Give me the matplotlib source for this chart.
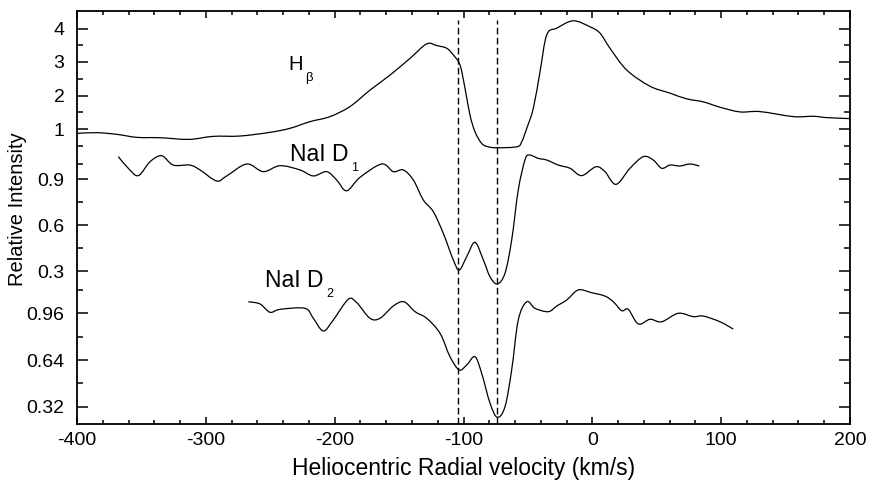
import numpy as np
import matplotlib
matplotlib.use("Agg")
import matplotlib.pyplot as plt
from matplotlib.path import Path
from matplotlib.patches import PathPatch
from matplotlib.ticker import MultipleLocator, FixedLocator

plt.rcParams['font.family'] = ['Liberation Sans', 'DejaVu Sans']
plt.rcParams['axes.unicode_minus'] = False

# H-beta profile (relative intensity vs heliocentric velocity, km/s)
hb_vel = [-400, -384.5, -369, -353.4, -335.6, -313, -294.4, -273.5, -250.2, -234.7,
          -219.1, -203.6, -188.1, -172.6, -157.0, -141.5, -128.6, -120.8, -113.0, -107.9,
          -102.7, -98.8, -95.0, -91.1, -85.9, -81.0, -74.0, -58.5, -54.8, -50.9,
          -45.8, -40.6, -35.4, -27.6, -14.8, -1.8, 6.0, 13.7, 26.7, 44.6,
          60.3, 73.3, 86.1, 99.1, 114.6, 130.1, 156.0, 171.5, 181.9, 200]
hb_int = [0.87, 0.89, 0.84, 0.75, 0.74, 0.69, 0.78, 0.79, 0.90, 1.02,
          1.22, 1.37, 1.67, 2.16, 2.61, 3.11, 3.54, 3.49, 3.41, 3.21,
          2.91, 2.21, 1.42, 0.92, 0.57, 0.47, 0.44, 0.47, 0.62, 1.02,
          1.62, 2.71, 3.81, 4.01, 4.23, 4.05, 3.86, 3.41, 2.76, 2.28,
          2.07, 1.90, 1.81, 1.65, 1.51, 1.52, 1.37, 1.38, 1.34, 1.31]

# NaI D1
d1_vel = [-367.9, -360.2, -352.4, -343.3, -334.3, -325.3, -312.3, -304.5, -291.6, -283.8,
          -268.3, -255.4, -242.4, -226.9, -216.6, -206.2, -198.4, -190.7, -180.3, -163.5,
          -154.5, -146.7, -138.9, -131.2, -123.4, -115.7, -107.9, -103.3, -97.5, -91.1,
          -84.6, -79.4, -73.8, -67.8, -62.6, -57.5, -52.3, -49.0, -42.0, -35.4,
          -26.4, -17.3, -8.3, 2.8, 9.8, 18.4, 29.2, 39.6, 47.3, 53.8,
          60.3, 68.0, 75.8, 83.0]
d1_int = [1.048, 0.972, 0.924, 1.015, 1.054, 0.993, 0.993, 0.961, 0.889, 0.922,
          1.000, 0.950, 0.989, 0.961, 0.922, 0.950, 0.895, 0.825, 0.913, 1.000,
          0.950, 0.961, 0.895, 0.765, 0.688, 0.547, 0.373, 0.307, 0.394, 0.488,
          0.373, 0.263, 0.216, 0.286, 0.503, 0.830, 1.026, 1.059, 1.037, 1.026,
          0.993, 0.972, 0.924, 0.982, 0.950, 0.867, 0.972, 1.048, 1.026, 0.972,
          0.993, 0.987, 1.000, 0.987]

# NaI D2
d2_vel = [-267.0, -257.9, -250.2, -242.4, -223.0, -216.6, -208.8, -201.1, -189.4, -182.9,
          -172.6, -164.8, -154.5, -146.2, -137.6, -128.6, -118.2, -110.5, -103.3, -97.5,
          -91.1, -85.9, -79.4, -73.8, -67.8, -62.6, -57.5, -50.9, -44.5, -34.2,
          -27.6, -19.9, -10.9, -0.5, 9.8, 16.3, 22.8, 27.9, 35.7, 44.8,
          53.8, 66.7, 78.4, 86.1, 99.1, 109.4]
d2_int = [1.039, 1.024, 0.967, 0.987, 0.994, 0.926, 0.839, 0.914, 1.056, 1.033,
          0.926, 0.926, 1.010, 1.039, 0.971, 0.926, 0.823, 0.663, 0.572, 0.606,
          0.663, 0.549, 0.344, 0.248, 0.320, 0.572, 0.914, 1.039, 0.994, 0.971,
          1.010, 1.051, 1.120, 1.101, 1.078, 1.039, 0.978, 0.987, 0.887, 0.919,
          0.902, 0.960, 0.937, 0.941, 0.902, 0.852]

# absorption components (dashed lines)
comp_vel = [-104, -74]

# tick values of each stacked panel
hb_ticks = [1, 2, 3, 4]
hb_minor = [0.5, 1.5, 2.5, 3.5]
d1_ticks = [0.3, 0.6, 0.9]
d1_minor = [0.45, 0.75, 1.0]
d2_ticks = [0.32, 0.64, 0.96]
d2_minor = [0.48, 0.8, 1.12]


# stacking: map each panel's intensity onto a common vertical coordinate
def hb_y(v):
    return 295 + 33.5 * (np.asarray(v, float) - 1)


def d1_y(v):
    return 244.7 + 153 * (np.asarray(v, float) - 0.9)


def d2_y(v):
    return 110.7 + 146 * (np.asarray(v, float) - 0.96)


def smooth_line(ax, x, y, **kw):
    # cubic Bezier path through the measured points (Catmull-Rom tangents)
    p = np.column_stack([x, y])
    n = len(p)
    verts = [p[0]]
    codes = [Path.MOVETO]
    for i in range(n - 1):
        p0 = p[max(i - 1, 0)]
        p3 = p[min(i + 2, n - 1)]
        c1 = p[i] + (p[i + 1] - p0) / 6
        c2 = p[i + 1] - (p3 - p[i]) / 6
        verts += [c1, c2, p[i + 1]]
        codes += [Path.CURVE4] * 3
    ax.add_patch(PathPatch(Path(verts, codes), fill=False, **kw))


fig = plt.figure(figsize=(8.74, 4.84), dpi=100)
ax = fig.add_axes([77 / 874, 60 / 484, 773 / 874, 413 / 484])

lw = 0.9
smooth_line(ax, hb_vel, hb_y(hb_int), color='black', lw=lw)
smooth_line(ax, d1_vel, d1_y(d1_int), color='black', lw=lw)
smooth_line(ax, d2_vel, d2_y(d2_int), color='black', lw=lw)
ax.vlines(comp_vel, 0, 404, colors='black', lw=1.0, linestyles=(0, (4.8, 2.4)))

ax.set_xlim(-400, 200)
ax.set_ylim(0, 413)
ax.xaxis.set_major_locator(MultipleLocator(100))
ax.xaxis.set_minor_locator(MultipleLocator(20))

ymaj = list(hb_y(hb_ticks)) + list(d1_y(d1_ticks)) + list(d2_y(d2_ticks))
ylab = [f"{t:g}" for t in hb_ticks] + [f"{t:g}" for t in d1_ticks] + [f"{t:g}" for t in d2_ticks]
ax.yaxis.set_major_locator(FixedLocator(ymaj))
ax.set_yticklabels(ylab)
ymin = list(hb_y(hb_minor)) + list(d1_y(d1_minor)) + list(d2_y(d2_minor))
ax.yaxis.set_minor_locator(FixedLocator(ymin))

ax.tick_params(which='both', direction='in', top=True, right=True, width=1.1)
ax.tick_params(axis='x', which='major', length=5, pad=6, labelsize=14)
ax.tick_params(axis='x', which='minor', length=2.6)
ax.tick_params(axis='y', which='major', length=7.7, pad=9, labelsize=14)
ax.tick_params(axis='y', which='minor', length=4.3)
for s in ax.spines.values():
    s.set_linewidth(1.3)

ax.set_xlabel("Heliocentric Radial velocity (km/s)", fontsize=16.5, va='center')
ax.xaxis.set_label_coords(0.5, -44 / 413)
ax.set_ylabel("Relative Intensity", fontsize=14.5, va='center')
ax.yaxis.set_label_coords(-59 / 773, 0.52)

# line labels, subscripts placed right after the main text
t_hb = ax.text(-236.2, 354, "H", fontsize=14.5, ha='left', va='baseline')
ax.annotate("β", xy=(1, 0), xycoords=t_hb, xytext=(2, -5), textcoords='offset points',
            fontsize=9.5, ha='left', va='baseline')
t_d1 = ax.text(-234.7, 263.3, "NaI D", fontsize=16.5, ha='left', va='baseline')
ax.annotate("1", xy=(1, 0), xycoords=t_d1, xytext=(2, -4), textcoords='offset points',
            fontsize=9, ha='left', va='baseline')
t_d2 = ax.text(-254.1, 137.3, "NaI D", fontsize=16.5, ha='left', va='baseline')
ax.annotate("2", xy=(1, 0), xycoords=t_d2, xytext=(2, -4), textcoords='offset points',
            fontsize=9, ha='left', va='baseline')

fig.savefig("out.png", dpi=100)
